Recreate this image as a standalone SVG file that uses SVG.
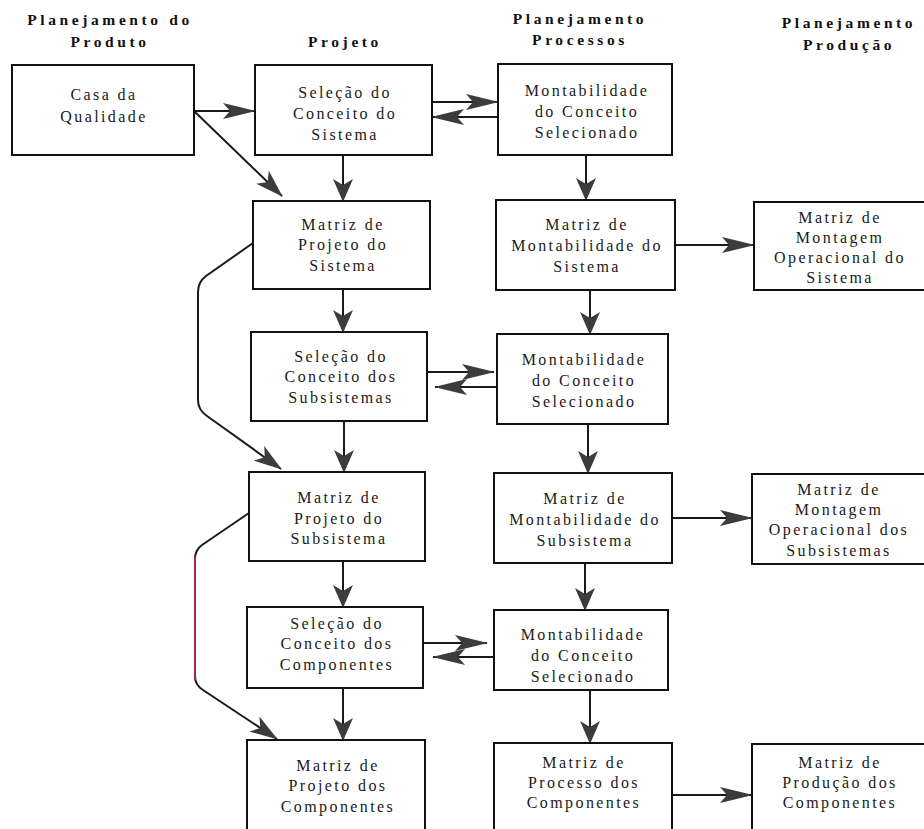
<svg xmlns="http://www.w3.org/2000/svg" width="924" height="829" viewBox="0 0 924 829">
  <style>
    .bg { fill: #ffffff; }
    .box { fill: #ffffff; stroke: #111111; stroke-width: 2; }
    .hdr { font-family: "Liberation Serif", "Times New Roman", serif; font-weight: bold; font-size: 15.5px; letter-spacing: 3.6px; fill: #111111; text-anchor: middle; }
    .lbl { font-family: "Liberation Serif", "Times New Roman", serif; font-size: 16px; letter-spacing: 2.4px; fill: #1a1a1a; text-anchor: middle; }
    .wire { fill: none; stroke: #1a1a1a; stroke-width: 2; }
    .wire-h { marker-end: url(#headH); }
    .wire-v { marker-end: url(#headV); }
    .wire-d { marker-end: url(#headD); }
    .tint { fill: none; stroke: #a0284a; stroke-width: 2; }
  </style>
  <defs>
    <!-- stealth-style arrowheads, tip at the path end -->
    <marker id="headH" markerUnits="userSpaceOnUse" orient="auto" refX="0" refY="0" markerWidth="40" markerHeight="20" viewBox="-34 -10 36 20" overflow="visible">
      <path d="M1,0 L-32,-8 L-25,0 L-32,8 Z" fill="#3c3c3c"/>
    </marker>
    <marker id="headV" markerUnits="userSpaceOnUse" orient="auto" refX="0" refY="0" markerWidth="30" markerHeight="24" viewBox="-24 -12 26 24" overflow="visible">
      <path d="M1,0 L-22,-10 L-16,0 L-22,10 Z" fill="#3c3c3c"/>
    </marker>
    <marker id="headD" markerUnits="userSpaceOnUse" orient="auto" refX="0" refY="0" markerWidth="34" markerHeight="22" viewBox="-29 -11 31 22" overflow="visible">
      <path d="M1,0 L-27,-9 L-20,0 L-27,9 Z" fill="#3c3c3c"/>
    </marker>
  </defs>

  <rect class="bg" x="0" y="0" width="924" height="829"/>

  <!-- column headings -->
  <g id="headings">
    <text class="hdr" x="110" y="25">Planejamento do</text>
    <text class="hdr" x="110" y="47">Produto</text>
    <text class="hdr" x="345" y="47">Projeto</text>
    <text class="hdr" x="580" y="24">Planejamento</text>
    <text class="hdr" x="580" y="45">Processos</text>
    <text class="hdr" x="849" y="28">Planejamento</text>
    <text class="hdr" x="849" y="50">Produção</text>
  </g>

  <!-- connectors -->
  <g id="connectors">
    <path class="wire wire-h" d="M194,111 L255,111"/>
    <path class="wire wire-d" d="M194,111 L282,196"/>
    <path class="wire wire-h" d="M432,102 L498,102"/>
    <path class="wire wire-h" d="M498,117 L432,117"/>
    <path class="wire wire-v" d="M343,155 L343,201"/>
    <path class="wire wire-v" d="M586,155 L586,200"/>
    <path class="wire wire-h" d="M675,245 L754,245"/>
    <path class="wire wire-v" d="M343,289 L343,332"/>
    <path class="wire wire-v" d="M590,290 L590,334"/>
    <path class="wire wire-h" d="M427,372 L494,372"/>
    <path class="wire wire-h" d="M497,387 L435,387"/>
    <path class="wire wire-d" d="M253,243 L206,276 Q198,282 198,292 L198,400 Q198,410 207,416 L281,469"/>
    <path class="wire wire-v" d="M344,421 L344,472"/>
    <path class="wire wire-v" d="M588,424 L588,473"/>
    <path class="wire wire-v" d="M343,561 L343,607"/>
    <path class="wire wire-v" d="M585,563 L585,610"/>
    <path class="wire wire-h" d="M672,518 L752,518"/>
    <path class="wire wire-h" d="M423,643 L487,643"/>
    <path class="wire wire-h" d="M494,657 L433,657"/>
    <path class="wire wire-d" d="M249,513 L202,545 Q195,550 195,559 L195,676 Q195,685 203,690 L277,739"/>
    <path class="tint" d="M195,556 L195,680"/>
    <path class="wire wire-v" d="M343,688 L343,740"/>
    <path class="wire wire-v" d="M590,690 L590,743"/>
    <path class="wire wire-h" d="M672,795 L752,795"/>
  </g>

  <!-- Planejamento do Produto -->
  <g id="casa-qualidade">
    <rect class="box" x="12" y="65" width="182" height="90"/>
    <text class="lbl" x="104" y="100">Casa da</text>
    <text class="lbl" x="104" y="122">Qualidade</text>
  </g>

  <!-- Projeto column -->
  <g id="selecao-sistema">
    <rect class="box" x="255" y="65" width="177" height="90"/>
    <text class="lbl" x="345" y="98">Seleção do</text>
    <text class="lbl" x="345" y="119">Conceito do</text>
    <text class="lbl" x="345" y="140">Sistema</text>
  </g>
  <g id="matriz-projeto-sistema">
    <rect class="box" x="253" y="201" width="177" height="88"/>
    <text class="lbl" x="343" y="230">Matriz de</text>
    <text class="lbl" x="343" y="250">Projeto do</text>
    <text class="lbl" x="343" y="271">Sistema</text>
  </g>
  <g id="selecao-subsistemas">
    <rect class="box" x="251" y="332" width="176" height="89"/>
    <text class="lbl" x="341" y="362">Seleção do</text>
    <text class="lbl" x="341" y="382">Conceito dos</text>
    <text class="lbl" x="341" y="403">Subsistemas</text>
  </g>
  <g id="matriz-projeto-subsistema">
    <rect class="box" x="249" y="472" width="176" height="89"/>
    <text class="lbl" x="339" y="503">Matriz de</text>
    <text class="lbl" x="339" y="524">Projeto do</text>
    <text class="lbl" x="339" y="544">Subsistema</text>
  </g>
  <g id="selecao-componentes">
    <rect class="box" x="247" y="607" width="176" height="81"/>
    <text class="lbl" x="337" y="629">Seleção do</text>
    <text class="lbl" x="337" y="649">Conceito dos</text>
    <text class="lbl" x="337" y="670">Componentes</text>
  </g>
  <g id="matriz-projeto-componentes">
    <rect class="box" x="247" y="740" width="178" height="100"/>
    <text class="lbl" x="338" y="771">Matriz de</text>
    <text class="lbl" x="338" y="791">Projeto dos</text>
    <text class="lbl" x="338" y="812">Componentes</text>
  </g>

  <!-- Planejamento Processos column -->
  <g id="montabilidade-sistema">
    <rect class="box" x="498" y="64" width="174" height="91"/>
    <text class="lbl" x="587" y="96">Montabilidade</text>
    <text class="lbl" x="587" y="117">do Conceito</text>
    <text class="lbl" x="587" y="138">Selecionado</text>
  </g>
  <g id="matriz-montabilidade-sistema">
    <rect class="box" x="496" y="200" width="179" height="90"/>
    <text class="lbl" x="587" y="230">Matriz de</text>
    <text class="lbl" x="587" y="251">Montabilidade do</text>
    <text class="lbl" x="587" y="272">Sistema</text>
  </g>
  <g id="montabilidade-subsistemas">
    <rect class="box" x="497" y="334" width="171" height="90"/>
    <text class="lbl" x="584" y="365">Montabilidade</text>
    <text class="lbl" x="584" y="386">do Conceito</text>
    <text class="lbl" x="584" y="407">Selecionado</text>
  </g>
  <g id="matriz-montabilidade-subsistema">
    <rect class="box" x="494" y="473" width="178" height="90"/>
    <text class="lbl" x="585" y="504">Matriz de</text>
    <text class="lbl" x="585" y="525">Montabilidade do</text>
    <text class="lbl" x="585" y="546">Subsistema</text>
  </g>
  <g id="montabilidade-componentes">
    <rect class="box" x="494" y="610" width="174" height="80"/>
    <text class="lbl" x="583" y="640">Montabilidade</text>
    <text class="lbl" x="583" y="661">do Conceito</text>
    <text class="lbl" x="583" y="682">Selecionado</text>
  </g>
  <g id="matriz-processo-componentes">
    <rect class="box" x="494" y="743" width="178" height="100"/>
    <text class="lbl" x="584" y="768">Matriz de</text>
    <text class="lbl" x="584" y="788">Processo dos</text>
    <text class="lbl" x="584" y="808">Componentes</text>
  </g>

  <!-- Planejamento Produção column -->
  <g id="montagem-sistema">
    <rect class="box" x="754" y="202" width="174" height="88"/>
    <text class="lbl" x="840" y="223">Matriz de</text>
    <text class="lbl" x="840" y="243">Montagem</text>
    <text class="lbl" x="840" y="263">Operacional do</text>
    <text class="lbl" x="840" y="283">Sistema</text>
  </g>
  <g id="montagem-subsistemas">
    <rect class="box" x="752" y="474" width="176" height="90"/>
    <text class="lbl" x="839" y="495">Matriz de</text>
    <text class="lbl" x="839" y="515">Montagem</text>
    <text class="lbl" x="839" y="535">Operacional dos</text>
    <text class="lbl" x="839" y="556">Subsistemas</text>
  </g>
  <g id="producao-componentes">
    <rect class="box" x="752" y="744" width="176" height="100"/>
    <text class="lbl" x="840" y="768">Matriz de</text>
    <text class="lbl" x="840" y="788">Produção dos</text>
    <text class="lbl" x="840" y="808">Componentes</text>
  </g>
</svg>
